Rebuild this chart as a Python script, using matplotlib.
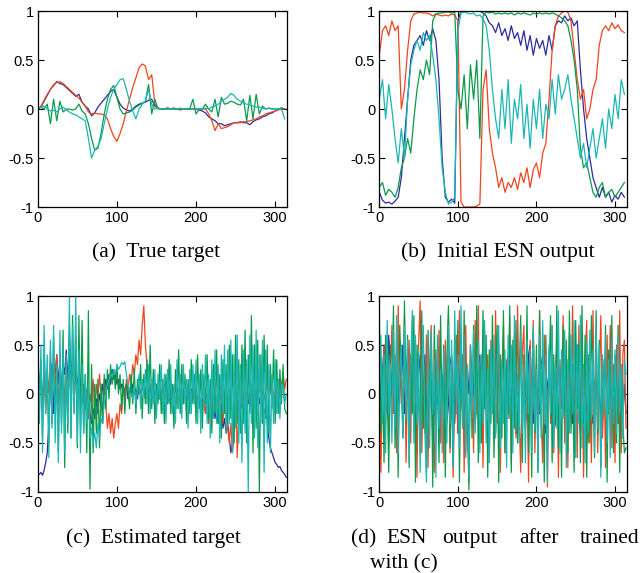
import matplotlib
matplotlib.use('Agg')
import matplotlib.pyplot as plt
import numpy as np

# sample index: every 4th step for the smoother panels, every 2nd for the noisy ones
t = np.arange(0, 316, 4)
t2 = np.arange(0, 316, 2)

# (a) true target
a_blue = [0.0, 0.02, 0.08, 0.14, 0.2, 0.24, 0.28, 0.26, 0.25, 0.22,
          0.19, 0.16, 0.13, 0.15, 0.07, 0.03, 0.0, -0.07, -0.04, 0.02,
          0.06, 0.1, 0.14, 0.18, 0.2, 0.12, 0.05, 0.01, -0.01, -0.02,
          0.0, 0.03, 0.05, 0.06, 0.07, 0.09, 0.1, 0.03, 0.01, 0.0,
          0.0, 0.01, 0.0, 0.01, 0.0, 0.0, 0.0, 0.0, 0.0, 0.0,
          0.0, -0.01, -0.02, -0.04, -0.08, -0.1, -0.12, -0.15, -0.15, -0.17,
          -0.16, -0.15, -0.14, -0.14, -0.13, -0.14, -0.14, -0.16, -0.13, -0.11,
          -0.1, -0.08, -0.07, -0.05, -0.04, -0.02, 0.0, 0.01, 0.0]
a_red = [0.0, 0.03, 0.09, 0.15, 0.2, 0.25, 0.27, 0.28, 0.26, 0.23,
         0.2, 0.17, 0.14, 0.11, 0.07, 0.03, -0.03, -0.05, -0.04, -0.05,
         -0.05, -0.06, -0.1, -0.2, -0.28, -0.33, -0.25, -0.15, -0.02, 0.1,
         0.22, 0.32, 0.42, 0.46, 0.44, 0.3, 0.35, 0.05, 0.01, 0.0,
         0.0, 0.01, 0.0, 0.0, 0.0, -0.01, 0.0, 0.0, 0.0, 0.0,
         0.0, 0.0, 0.0, 0.0, -0.05, -0.12, -0.22, -0.15, -0.2, -0.19,
         -0.18, -0.16, -0.14, -0.14, -0.14, -0.13, -0.13, -0.12, -0.11, -0.1,
         -0.08, -0.07, -0.05, -0.04, -0.03, -0.02, -0.01, 0.0, 0.0]
a_green = [0.0, 0.02, 0.0, 0.05, -0.15, 0.1, -0.12, 0.08, -0.03, 0.0,
           0.0, -0.01, 0.0, 0.05, -0.02, -0.05, -0.15, -0.3, -0.42, -0.4,
           -0.25, -0.05, 0.1, 0.2, 0.24, 0.12, 0.0, -0.05, -0.04, -0.03,
           -0.01, 0.02, 0.04, 0.06, 0.08, 0.25, -0.05, 0.1, 0.0, 0.0,
           0.0, 0.0, 0.0, 0.0, 0.0, 0.0, 0.0, 0.0, 0.0, 0.1,
           -0.05, 0.0, 0.0, 0.05, 0.0, -0.03, 0.1, -0.08, 0.12, 0.05,
           0.06, 0.08, 0.07, 0.05, 0.04, 0.1, -0.12, 0.14, -0.1, 0.15,
           -0.05, 0.03, 0.0, 0.01, 0.0, 0.0, 0.0, 0.01, 0.0]
a_cyan = [0.0, 0.02, 0.03, 0.0, -0.02, -0.01, -0.03, 0.0, 0.02, -0.01,
          -0.03, -0.05, -0.06, -0.08, -0.1, -0.12, -0.3, -0.5, -0.42, -0.38,
          -0.3, -0.15, 0.0, 0.12, 0.2, 0.25, 0.3, 0.31, 0.2, 0.08,
          -0.02, -0.1, 0.0, 0.05, 0.08, 0.2, 0.05, 0.0, 0.01, 0.0,
          0.0, 0.0, 0.0, 0.0, 0.0, 0.01, 0.0, 0.0, 0.0, 0.0,
          0.0, 0.0, 0.0, 0.01, 0.0, 0.02, 0.03, 0.05, 0.08, 0.1,
          0.12, 0.16, 0.14, 0.1, 0.08, 0.06, 0.05, 0.04, 0.03, 0.02,
          0.02, 0.01, 0.0, 0.01, 0.0, 0.0, 0.0, 0.0, -0.1]

# (b) initial ESN output
b_blue = [-0.85, -0.93, -0.96, -0.95, -0.97, -0.94, -0.9, -0.7, -0.3, 0.1,
          0.5, 0.65, 0.7, 0.75, 0.65, 0.8, 0.7, 0.82, 0.7, 0.3,
          -0.5, -0.9, -0.95, -0.92, -0.96, 0.9, 1.0, 1.0, 1.0, 1.0,
          1.0, 1.0, 1.0, 0.98, 0.95, 0.88, 0.85, 0.78, 0.88, 0.75,
          0.82, 0.7, 0.85, 0.72, 0.78, 0.65, 0.8, 0.6, 0.75, 0.55,
          0.72, 0.62, 0.7, 0.55, 0.75, 0.6, 0.85, 0.9, 0.88, 0.95,
          0.9, 0.93, 0.85, 0.9, 0.4, 0.0, -0.3, -0.5, -0.7, -0.8,
          -0.9, -0.8, -0.9, -0.85, -0.95, -0.88, -0.92, -0.85, -0.9]
b_red = [0.55, 0.8, 0.85, 0.75, 0.9, 0.8, 0.85, 0.0, 0.2, 0.6,
         0.9, 0.97, 0.98, 0.99, 0.98, 0.98, 0.97, 0.95, 0.97, 0.96,
         0.95, 0.96, 0.95, 0.97, 0.96, 0.9, -0.95, -1.0, -1.0, -1.0,
         -1.0, -0.99, -0.97, 0.2, 0.4, -0.2, -0.45, -0.6, -0.8, -0.7,
         -0.85, -0.75, -0.8, -0.7, -0.82, -0.65, -0.75, -0.6, -0.8, -0.62,
         -0.55, -0.7, -0.45, -0.35, 0.1, 0.6, 0.85, 0.95, 0.98, 1.0,
         0.99, 0.9, 0.6, 0.3, 0.1, 0.2, -0.1, 0.0, 0.2, 0.3,
         0.65, 0.8, 0.85, 0.8, 0.88, 0.82, 0.86, 0.8, 0.78]
b_green = [-0.8, -0.75, -0.88, -0.82, -0.85, -0.9, -0.8, -0.6, -0.5, -0.3,
           -0.45, -0.1, 0.2, 0.4, 0.3, 0.5, 0.35, 0.9, 0.97, 0.98,
           0.98, 0.99, 0.99, 0.98, 0.99, 0.2, 0.0, 0.35, -0.2, 0.45,
           0.1, 0.5, -0.3, 0.95, 0.99, 0.98, 0.99, 0.97, 0.98, 0.97,
           0.98, 0.97, 0.98, 0.96, 0.98, 0.97, 0.98, 0.97, 0.96, 0.98,
           0.97, 0.98, 0.97, 0.98, 0.97, 0.98, 0.97, 0.95, 0.93, 0.9,
           0.85, 0.7, 0.5, 0.2, -0.4, -0.6, -0.55, -0.7, -0.85, -0.9,
           -0.8, -0.75, -0.9, -0.85, -0.82, -0.9, -0.85, -0.8, -0.75]
b_cyan = [0.1, 0.3, -0.1, 0.25, 0.0, -0.3, -0.55, -0.2, -0.5, 0.1,
          0.45, 0.6, 0.7, 0.6, 0.78, 0.7, 0.75, 0.55, 0.3, -0.1,
          -0.6, -0.85, -0.97, -0.95, -0.9, 0.8, 0.98, 0.99, 0.98, 0.97,
          0.98, 0.95, 0.96, 0.92, 0.85, 0.6, 0.2, -0.1, -0.3, 0.2,
          -0.2, 0.3, -0.35, 0.1, -0.1, 0.25, -0.3, 0.05, -0.4, 0.1,
          -0.2, 0.2, -0.3, 0.05, -0.1, 0.3, -0.05, 0.35, 0.1, 0.2,
          0.35, 0.1, -0.1, -0.3, -0.5, -0.35, -0.6, -0.4, -0.2, -0.5,
          -0.3, -0.1, -0.4, 0.0, -0.2, 0.15, -0.1, 0.3, 0.15]

# (c) estimated target
c_blue = [-0.8, -0.82, -0.8, -0.83, -0.78, -0.7, -0.6, -0.3, 0.1, 0.3,
          -0.2, 0.2, 0.4, 0.1, 0.35, 0.05, 0.3, 0.2, 0.45, 0.1,
          0.6, 0.2, 0.35, 0.0, 0.3, 0.1, 0.2, -0.05, 0.15, -0.1,
          0.05, -0.15, -0.1, -0.2, -0.3, -0.15, -0.25, -0.05, -0.2, 0.0,
          -0.1, 0.1, 0.0, 0.15, 0.05, 0.2, 0.1, 0.25, 0.15, 0.2,
          0.1, 0.15, 0.05, 0.1, 0.0, 0.05, 0.1, -0.05, 0.05, 0.0,
          0.1, 0.0, 0.05, -0.05, 0.1, 0.0, 0.05, 0.1, -0.05, 0.05,
          0.0, 0.08, -0.05, 0.05, 0.0, 0.1, -0.05, 0.03, 0.0, 0.05,
          -0.05, 0.05, 0.0, -0.08, 0.05, 0.0, -0.05, 0.08, 0.0, -0.05,
          0.05, -0.1, 0.0, 0.05, -0.05, 0.0, -0.1, 0.05, -0.05, 0.0,
          -0.1, -0.05, 0.0, -0.15, -0.05, -0.1, -0.2, -0.05, -0.15, -0.1,
          -0.2, -0.1, -0.25, -0.15, -0.3, -0.2, -0.1, -0.35, -0.25, -0.4,
          -0.3, -0.45, -0.6, -0.5, -0.3, -0.15, -0.25, -0.1, 0.0, -0.15,
          -0.05, -0.2, 0.0, -0.1, 0.05, -0.15, -0.05, 0.0, -0.1, 0.05,
          -0.1, 0.0, -0.05, -0.2, -0.15, -0.3, -0.45, -0.55, -0.6, -0.65,
          -0.7, -0.72, -0.75, -0.74, -0.78, -0.8, -0.82, -0.85]
c_red = [-0.3, 0.1, 0.3, -0.1, 0.2, -0.2, 0.25, 0.0, 0.35, -0.05,
         0.3, 0.1, 0.4, -0.1, 0.2, 0.05, 0.35, -0.15, 0.25, 0.0,
         0.4, -0.1, 0.3, 0.1, 0.2, -0.2, 0.15, 0.0, -0.1, 0.1,
         -0.15, 0.05, -0.25, 0.0, -0.1, 0.15, -0.2, 0.1, -0.05, 0.2,
         0.0, -0.3, 0.15, -0.1, -0.35, -0.2, -0.4, -0.25, -0.45, -0.3,
         -0.2, -0.35, -0.1, -0.2, 0.1, -0.05, 0.15, 0.05, 0.2, 0.1,
         0.3, 0.2, 0.4, 0.3, 0.55, 0.4, 0.7, 0.9, 0.5, 0.3,
         0.2, 0.05, 0.1, -0.05, 0.05, 0.0, 0.1, -0.05, 0.0, 0.08,
         -0.05, 0.05, -0.1, 0.0, 0.1, -0.05, 0.05, -0.1, 0.0, 0.05,
         -0.1, 0.05, -0.05, 0.1, -0.15, 0.0, 0.05, -0.1, 0.0, -0.05,
         0.1, -0.1, 0.0, -0.15, 0.05, -0.05, -0.2, 0.0, -0.3, 0.05,
         -0.1, 0.2, -0.15, 0.3, -0.05, -0.2, 0.1, -0.3, 0.0, -0.2,
         -0.35, -0.5, -0.3, -0.6, -0.45, 0.25, -0.65, -0.2, 0.1, -0.1,
         0.05, -0.15, 0.1, -0.05, 0.0, 0.1, -0.1, 0.05, 0.0, -0.05,
         0.1, -0.05, 0.05, 0.0, -0.1, 0.15, -0.05, 0.05, 0.1, -0.05,
         0.1, 0.0, 0.15, -0.05, 0.1, 0.2, 0.05, 0.15]
c_green = [0.6, -0.2, 0.35, -0.45, 0.5, -0.1, 0.2, -0.5, 0.45, -0.3,
           0.6, -0.15, 0.25, -0.6, 0.4, -0.3, 0.65, -0.75, 0.3, -0.4,
           0.7, -0.45, 0.8, -0.2, 0.6, -0.55, 0.8, -0.3, 0.75, -0.4,
           0.2, -0.6, 0.85, -0.97, 0.3, -0.6, 0.1, -0.4, 0.15, -0.55,
           0.1, -0.3, 0.2, -0.15, 0.25, -0.05, 0.3, 0.1, 0.25, 0.05,
           0.3, 0.0, 0.2, -0.15, 0.15, -0.2, 0.1, 0.05, -0.15, 0.2,
           -0.1, 0.25, -0.2, 0.15, 0.0, 0.3, -0.25, 0.2, -0.1, 0.35,
           -0.2, 0.5, -0.15, 0.25, -0.3, 0.1, -0.1, 0.3, -0.2, 0.15,
           -0.3, 0.2, -0.1, 0.35, -0.2, 0.1, -0.35, 0.25, -0.15, 0.45,
           -0.2, 0.3, -0.1, 0.2, -0.3, 0.15, -0.2, 0.35, -0.1, 0.2,
           -0.3, 0.4, -0.15, 0.25, -0.35, 0.2, -0.1, 0.4, -0.25, 0.15,
           -0.4, 0.3, -0.2, 0.45, -0.3, 0.2, -0.45, 0.35, -0.2, 0.3,
           -0.3, 0.5, -0.25, 0.4, -0.5, 0.6, -0.3, 0.35, -0.4, 0.5,
           -0.3, 0.65, -0.5, 0.4, -0.2, 0.8, -0.6, 0.5, -0.35, 0.55,
           -1.0, 0.4, -0.3, 0.6, -0.25, 0.5, -0.4, 0.3, -0.15, 0.45,
           -0.3, 0.35, -0.2, 0.25, -0.1, 0.3, -0.15, -0.2]
c_cyan = [0.65, -0.3, 0.5, -0.6, 0.7, -0.2, 0.4, -0.65, 0.55, -0.35,
          0.7, -0.5, 0.3, -0.7, 0.65, -0.4, 0.5, -0.6, 0.4, -0.3,
          1.0, -0.45, 0.7, -0.2, 1.0, -0.5, 0.45, -0.6, 0.3, -0.4,
          0.2, -0.3, 0.1, -0.45, -0.35, -0.5, -0.4, -0.55, -0.3, -0.45,
          -0.25, -0.3, -0.1, 0.0, 0.1, 0.15, 0.2, 0.18, 0.25, 0.2,
          0.3, 0.25, 0.28, 0.32, 0.3, 0.33, 0.2, 0.1, 0.05, 0.0,
          -0.05, 0.1, -0.1, 0.05, 0.2, -0.15, 0.15, 0.0, 0.25, -0.1,
          0.3, -0.2, 0.15, -0.1, 0.25, -0.25, 0.2, -0.05, 0.3, -0.2,
          0.2, -0.3, 0.25, -0.1, 0.3, -0.2, 0.1, -0.3, 0.35, -0.15,
          0.2, -0.25, 0.3, -0.1, 0.15, -0.35, 0.25, -0.2, 0.3, -0.1,
          0.35, -0.3, 0.2, -0.4, 0.3, -0.15, 0.4, -0.3, 0.2, -0.45,
          0.35, -0.25, 0.45, -0.3, 0.3, -0.5, 0.4, -0.2, 0.5, -0.4,
          0.45, -0.3, 0.55, -0.6, 0.4, -0.35, 0.6, -0.5, 0.3, -0.7,
          0.45, -0.4, 0.35, -1.0, 0.6, -0.3, 0.5, -0.45, 0.65, -0.55,
          0.4, -0.3, 0.55, -0.8, 0.45, -0.5, 0.3, -0.6, 0.2, -0.3,
          0.35, -0.2, 0.15, -0.25, 0.1, 0.05, -0.1, 0.0]

# (d) ESN output after trained with (c)
d_blue = [-0.3, 0.1, 0.2, 0.5, -0.1, -0.2, 0.6, 0.3, -0.1, 0.2,
          0.3, -0.3, -0.2, 0.4, 0.1, 0.5, -0.2, 0.2, 0.4, -0.3,
          -0.2, 0.1, 0.3, -0.4, -0.1, 0.2, 0.4, -0.3, 0.0, 0.4,
          -0.1, -0.3, 0.2, 0.3, -0.5, -0.2, 0.3, 0.1, -0.2, 0.0,
          -0.2, 0.3, 0.1, -0.3, -0.1, 0.3, 0.4, 0.0, -0.3, 0.2,
          -0.4, 0.1, 0.5, 0.2, -0.1, -0.3, 0.3, 0.0, 0.2, -0.2,
          0.2, -0.3, -0.1, 0.3, 0.4, -0.2, -0.3, 0.1, 0.1, -0.1,
          -0.2, 0.2, 0.3, -0.3, -0.4, 0.1, 0.2, 0.3, 0.0, -0.2,
          -0.3, 0.1, 0.4, -0.1, -0.1, 0.3, 0.2, -0.4, -0.4, 0.2,
          0.3, 0.0, 0.0, -0.3, -0.2, 0.4, 0.5, -0.1, -0.3, 0.1,
          0.1, -0.2, -0.2, 0.3, 0.4, -0.3, -0.4, 0.1, 0.2, 0.0,
          0.0, -0.4, -0.3, 0.2, 0.3, -0.1, -0.1, 0.3, 0.4, -0.2,
          -0.3, 0.1, 0.2, -0.3, -0.2, 0.4, 0.5, 0.0, -0.4, 0.2,
          0.1, -0.3, -0.1, 0.3, 0.3, -0.2, -0.3, 0.1, 0.2, -0.1,
          0.0, -0.2, -0.4, 0.2, 0.3, -0.1, -0.2, 0.4, 0.2, -0.3,
          0.1, 0.2, -0.3, -0.1, 0.3, -0.2, 0.1, -0.2]
d_red = [0.2, -0.8, 0.15, 0.5, -0.3, 0.6, -0.5, 0.1, 0.7, -0.2,
         0.4, -0.6, 0.9, -0.1, 0.3, -0.4, 0.8, -0.7, 0.2, 0.55,
         -0.5, 0.75, -0.2, 0.35, -0.85, 0.5, 0.95, -0.6, 0.1, -0.4,
         0.6, -0.75, 0.3, 0.7, -0.3, -0.8, 0.45, -0.1, 0.65, -0.5,
         0.2, -0.7, 0.55, -0.25, 0.8, -0.6, 0.35, -0.85, 0.1, 0.6,
         -0.4, 0.85, -0.15, 0.4, -0.8, 0.7, -0.3, -0.9, 0.5, 0.2,
         -0.6, 0.75, -0.2, 0.9, -0.5, 0.3, -0.75, 0.65, -0.1, 0.4,
         -0.7, 0.55, 0.1, -0.45, 0.85, -0.3, 0.5, -0.8, 0.2, 0.7,
         -0.6, 0.35, -0.25, 0.8, -0.7, 0.15, 0.6, -0.45, 0.9, -0.2,
         -0.8, 0.4, 0.7, -0.35, 0.2, -0.9, 0.55, -0.1, 0.75, -0.6,
         0.3, -0.5, 0.85, -0.25, -0.7, 0.6, 0.1, -0.95, 0.45, -0.3,
         0.7, -0.6, 0.2, 0.55, -0.85, 0.35, -0.15, 0.8, -0.5, 0.25,
         -0.75, 0.6, -0.3, 0.9, -0.4, 0.15, -0.65, 0.7, -0.2, 0.5,
         -0.85, 0.3, 0.75, -0.5, 0.1, -0.7, 0.85, -0.35, 0.45, -0.6,
         0.2, 0.8, -0.45, 0.35, -0.75, 0.6, -0.2, 0.7, -0.55, 0.3,
         -0.7, 0.5, -0.3, 0.85, -0.6, 0.4, 0.55, -0.35]
d_green = [0.85, -0.4, 0.3, -0.7, 0.6, 0.1, -0.8, 0.5, -0.2, 0.9,
           -0.55, 0.35, -0.85, 0.7, 0.2, -0.45, 0.95, -0.3, 0.6, -0.75,
           0.4, -0.2, 0.8, -0.9, 0.5, 0.0, -0.6, 0.85, -0.35, 0.3,
           -0.8, 0.65, -0.15, 0.45, -0.95, 0.7, -0.4, 0.2, -0.7, 0.8,
           -0.3, 0.5, -0.85, 0.35, 0.9, -0.55, 0.15, -0.75, 0.6, -0.2,
           0.75, -0.9, 0.4, -0.35, 0.85, -0.6, 0.25, -0.98, 0.5, -0.45,
           0.7, -0.25, 0.9, -0.7, 0.3, -0.5, 0.85, -0.15, 0.6, -0.85,
           0.45, -0.3, 0.8, -0.65, 0.2, 0.7, -0.9, 0.4, -0.45, 0.85,
           -0.6, 0.3, -0.2, 0.9, -0.8, 0.55, -0.35, 0.75, -0.5, 0.15,
           0.8, -0.7, 0.4, -0.25, 0.9, -0.6, 0.3, -0.85, 0.65, -0.4,
           0.5, -0.8, 0.85, -0.2, 0.35, -0.9, 0.6, -0.45, 0.2, 0.8,
           -0.7, 0.4, -0.3, 0.9, -0.55, 0.25, -0.85, 0.7, -0.2, 0.55,
           -0.6, 0.85, -0.4, 0.3, -0.8, 0.75, -0.15, 0.5, -0.7, 0.9,
           -0.3, 0.6, -0.85, 0.4, -0.5, 0.8, 0.1, -0.65, 0.85, -0.4,
           0.55, -0.75, 0.3, -0.2, 0.7, -0.9, 0.45, -0.35, 0.8, -0.6,
           0.4, -0.5, 0.7, -0.8, 0.25, -0.3, -0.6, -0.55]
d_cyan = [0.0, 0.6, -0.3, 0.4, -0.6, 0.75, -0.2, 0.3, -0.5, 0.65,
          -0.35, 0.8, -0.6, 0.2, 0.5, -0.45, 0.7, -0.25, 0.55, -0.7,
          0.3, 0.85, -0.5, 0.6, -0.3, 0.45, -0.8, 0.2, 0.7, -0.4,
          -0.9, 0.5, -0.55, 0.65, -0.2, 0.35, -0.85, 0.6, -0.35, 0.25,
          -0.6, 0.45, 0.1, -0.5, 0.7, -0.3, 0.55, -0.75, 0.85, -0.2,
          0.4, -0.55, 0.9, -0.35, 0.6, -0.65, 0.3, -0.85, 0.5, -0.25,
          0.65, -0.4, 0.2, 0.55, -0.6, 0.4, -0.3, 0.75, -0.5, 0.25,
          -0.7, 0.5, -0.2, 0.6, -0.45, 0.3, 0.7, -0.55, 0.35, -0.3,
          0.45, -0.75, 0.6, -0.25, 0.5, -0.6, 0.8, -0.35, 0.2, -0.5,
          0.65, -0.4, 0.3, -0.7, 0.55, -0.2, 0.45, -0.6, 0.7, -0.35,
          0.25, -0.8, 0.6, -0.45, 0.75, -0.3, 0.4, -0.9, 0.5, -0.2,
          0.7, -0.55, 0.3, -0.35, 0.85, -0.6, 0.45, -0.25, 0.65, -0.75,
          0.35, -0.4, 0.6, -0.2, 0.75, -0.65, 0.5, -0.3, 0.8, -0.55,
          0.3, -0.7, 0.55, -0.4, 0.65, -0.25, 0.45, -0.6, 0.7, -0.35,
          0.5, -0.85, 0.4, -0.2, 0.6, -0.5, 0.35, -0.65, 0.55, -0.3,
          0.45, -0.4, 0.6, -0.2, 0.3, -0.45, 0.35, 0.2]

colors = ['#2c2c9c', '#f2441f', '#0a9a4a', '#1bb6b6']
y_ticks = [-1, -0.5, 0, 0.5, 1]
y_tick_labels = ['-1', '-0.5', '0', '0.5', '1']
x_ticks = [0, 100, 200, 300]

panels = [
    ([0.059, 0.6387, 0.3895, 0.342], t, [a_blue, a_red, a_green, a_cyan]),
    ([0.5927, 0.6387, 0.3866, 0.342], t, [b_blue, b_red, b_green, b_cyan]),
    ([0.059, 0.1414, 0.3895, 0.342], t2, [c_blue, c_red, c_green, c_cyan]),
    ([0.5927, 0.1414, 0.3866, 0.342], t2, [d_blue, d_red, d_green, d_cyan]),
]

fig = plt.figure(figsize=(6.4, 5.73), dpi=100)

for rect, xs, series in panels:
    ax = fig.add_axes(rect)
    for s, c in zip(series, colors):
        ax.plot(xs, s, color=c, lw=0.9)
    ax.set_xlim(0, 315)
    ax.set_ylim(-1, 1)
    ax.set_xticks(x_ticks)
    ax.set_xticklabels([str(v) for v in x_ticks])
    ax.set_yticks(y_ticks)
    ax.set_yticklabels(y_tick_labels)
    ax.tick_params(direction='in', length=4, width=0.8, top=True, right=True,
                   labelsize=10.5, pad=3)
    for lab in ax.get_xticklabels() + ax.get_yticklabels():
        lab.set_fontfamily('Liberation Sans')
    for sp in ax.spines.values():
        sp.set_linewidth(0.9)

# captions (baseline aligned)
cap = dict(fontfamily='Liberation Serif', fontsize=15.5, va='baseline')
fig.text(156 / 640, 1 - 257 / 573, '(a)  True target', ha='center', **cap)
fig.text(498 / 640, 1 - 257 / 573, '(b)  Initial ESN output', ha='center', **cap)
fig.text(153 / 640, 1 - 543 / 573, '(c)  Estimated target', ha='center', **cap)
for x0, w in [(351, '(d)'), (386, 'ESN'), (442, 'output'), (519, 'after')]:
    fig.text(x0 / 640, 1 - 543 / 573, w, ha='left', **cap)
fig.text(639 / 640, 1 - 543 / 573, 'trained', ha='right', **cap)
fig.text(370 / 640, 1 - 568 / 573, 'with (c)', ha='left', **cap)

plt.savefig('out.png', dpi=100)
